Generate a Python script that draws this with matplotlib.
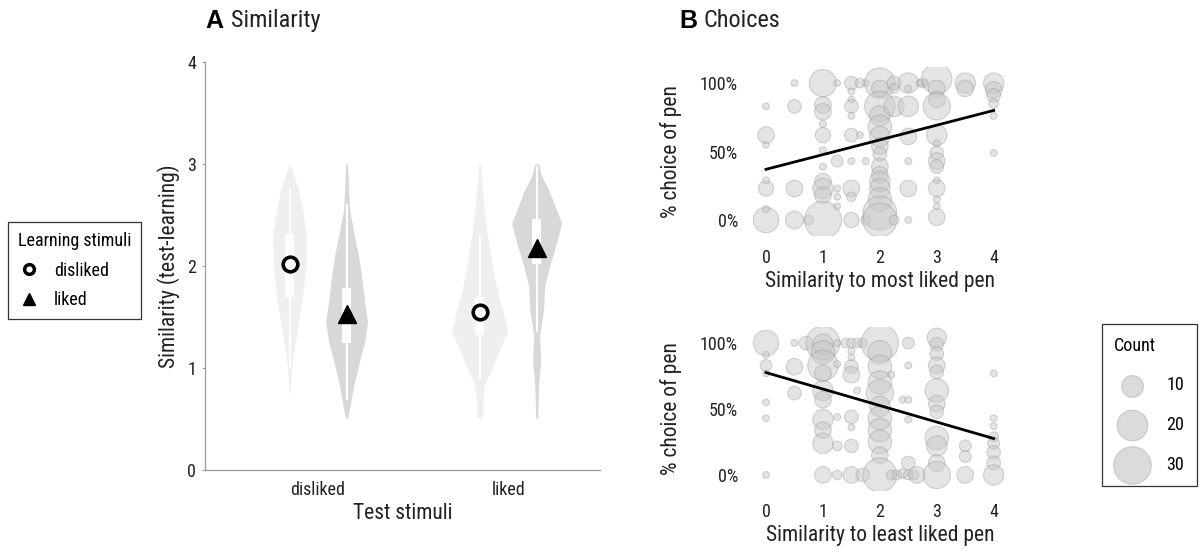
import matplotlib
matplotlib.use("Agg")
import matplotlib.pyplot as plt
from matplotlib.lines import Line2D
import numpy as np

plt.rcParams['font.family'] = ['Roboto Condensed', 'Liberation Sans Narrow', 'Roboto', 'DejaVu Sans']

# ---- Panel A data: violin profiles (y, half-width density) ----
categories = ["disliked", "liked"]
group_learning = ["disliked", "liked"]

viol_dd_y = [0.71, 1.0, 1.16, 1.32, 1.49, 1.78, 2.04, 2.29, 2.55, 2.78, 3.0]
viol_dd_w = [0, 2, 4, 7, 9.5, 14, 16.5, 17, 13, 8, 0.5]
viol_dl_y = [0.5, 0.52, 0.71, 0.87, 1.07, 1.26, 1.45, 1.65, 1.9, 2.1, 2.29, 2.55, 2.75, 3.0]
viol_dl_w = [0, 1.5, 5, 8, 13, 18, 21, 18, 15, 12, 8, 3, 2, 1]
viol_ld_y = [0.5, 0.52, 0.68, 0.84, 1.0, 1.2, 1.36, 1.45, 1.71, 1.97, 2.29, 2.55, 2.78, 3.0]
viol_ld_w = [0, 3, 3, 5, 12.5, 21, 28, 26, 19, 13, 8, 4.5, 2.5, 1]
viol_ll_y = [0.5, 0.52, 0.84, 1.07, 1.32, 1.58, 1.81, 2.0, 2.23, 2.42, 2.62, 2.75, 2.88, 3.0]
viol_ll_w = [0, 1, 2, 4, 3, 7, 8, 13, 20, 25, 17, 12, 5, 2]

# box (q1, q3) and whisker (lo, hi)
box_q = [(1.70, 2.31), (1.24, 1.78), (1.32, 1.70), (2.02, 2.46)]
whisk = [(1.0, 2.75), (0.7, 2.6), (0.9, 2.3), (1.36, 2.97)]
means = [2.02, 1.53, 1.55, 2.18]

# ---- Panel B data ----
top_x = [0, 0, 0, 0, 0, 0, 0,
         0.5, 0.5, 0.5, 0.5, 0.75,
         1, 1, 1, 1, 1, 1, 1, 1, 1, 1, 1,
         1.25, 1.25, 1.25, 1.25, 1.25,
         1.5, 1.5, 1.5, 1.5, 1.5, 1.5, 1.5, 1.5, 1.5, 1.5,
         1.65, 1.65, 1.75, 1.75, 1.75,
         2, 2, 2, 2, 2, 2, 2, 2, 2, 2, 2, 2, 2, 2, 2,
         2.25, 2.25, 2.25, 2.25,
         2.5, 2.5, 2.5, 2.5, 2.5, 2.5, 2.5,
         2.7, 2.75, 2.8,
         3, 3, 3, 3, 3, 3, 3, 3, 3, 3, 3, 3, 3, 3,
         3.5, 3.5,
         4, 4, 4, 4, 4, 4]
top_y = [0, 8, 23, 29, 55, 62, 83,
         100, 83, 23, 0, 0,
         100, 84, 79, 70, 62, 51, 39, 28, 23, 18, 0,
         100, 43, 23, 17, 10,
         100, 94, 88, 83, 76, 62, 43, 23, 17, 0,
         100, 62, 100, 43, 0,
         100, 96, 83, 76, 68, 61, 54, 48, 39, 33, 28, 23, 15, 5, 0,
         100, 96, 83, 0,
         100, 96, 83, 61, 43, 23, 0,
         100, 100, 100,
         103, 96, 88, 83, 62, 56, 49, 43, 39, 29, 23, 15, 10, 2,
         100, 96,
         100, 95, 91, 85, 76, 49]
top_n = [14, 1, 5, 1, 1, 6, 1,
         1, 4, 6, 7, 2,
         16, 6, 6, 1, 5, 1, 1, 6, 9, 6, 30,
         1, 3, 1, 1, 1,
         4, 1, 1, 4, 1, 4, 1, 6, 2, 5,
         2, 1, 1, 1, 2,
         20, 6, 20, 9, 12, 9, 6, 4, 6, 6, 9, 9, 12, 25, 25,
         4, 2, 9, 2,
         9, 1, 9, 6, 1, 6, 1,
         1, 2, 1,
         20, 6, 6, 16, 9, 1, 4, 6, 4, 1, 6, 1, 1, 6,
         9, 6,
         9, 6, 4, 2, 1, 1]
top_fit = (37, 10.75)  # intercept (%), slope (% per unit)

bot_x = [0, 0, 0, 0, 0, 0, 0,
         0.5, 0.5, 0.5, 0.7,
         1, 1, 1, 1, 1, 1, 1, 1, 1, 1, 1,
         1.25, 1.25, 1.25, 1.25, 1.25,
         1.4, 1.5, 1.6, 1.7, 1.5, 1.5, 1.5, 1.5, 1.6, 1.5, 1.5, 1.5, 1.5, 1.7,
         2, 2, 2, 2, 2, 2, 2, 2, 2, 2, 2,
         2.2, 2.3, 2.4, 2.5, 2.6, 2.5, 2.2, 2.4, 2.5, 2.5, 2.5, 2.5, 2.65,
         3, 3, 3, 3, 3, 3, 3, 3, 3, 3, 3, 3,
         3.5, 3.5, 3.5,
         4, 4, 4, 4, 4, 4, 4, 4]
bot_y = [100, 91, 83, 77, 55, 43, 0,
         100, 82, 62, 100,
         100, 99, 93, 83, 77, 64, 57, 42, 34, 24, 0,
         100, 84, 44, 22, 0,
         100, 100, 100, 100, 94, 89, 82, 76, 64, 44, 36, 22, 0, 0,
         100, 93, 82, 70, 62, 52, 43, 34, 25, 15, 0,
         0, 0, 1, 0, 0, 9, 76, 57, 100, 83, 57, 42, 0,
         104, 99, 92, 83, 78, 64, 54, 48, 28, 22, 9, 0,
         22, 14, 0,
         77, 43, 37, 29, 24, 17, 9, 0]
bot_n = [14, 1, 3, 1, 1, 1, 1,
         1, 6, 4, 4,
         25, 9, 12, 20, 6, 9, 6, 9, 6, 9, 6,
         1, 1, 1, 2, 2,
         2, 2, 2, 2, 1, 1, 4, 6, 1, 4, 1, 4, 6, 4,
         30, 12, 12, 12, 16, 9, 12, 12, 12, 6, 25,
         2, 2, 2, 2, 2, 4, 1, 1, 3, 1, 1, 1, 6,
         8, 4, 4, 6, 4, 12, 6, 4, 12, 9, 6, 16,
         3, 3, 6,
         1, 1, 1, 2, 3, 4, 4, 9]
bot_fit = (77.6, -12.5)

legend_counts = [10, 20, 30]

# ---- figure ----
fig = plt.figure(figsize=(12.01, 5.52), dpi=100)

light = '#efefef'
dark = '#d8d8d8'
spine_c = '#9a9a9a'
txt_c = '#222222'

axA = fig.add_axes([0.1707, 0.1486, 0.329, 0.7391])
profiles = [(viol_dd_y, viol_dd_w), (viol_dl_y, viol_dl_w),
            (viol_ld_y, viol_ld_w), (viol_ll_y, viol_ll_w)]
xpos = []
for ci in range(len(categories)):
    for gi in range(len(group_learning)):
        xpos.append(ci + 1 + (-0.15 if gi == 0 else 0.15))
wscale = 1 / 190.0
for i, (yy, ww) in enumerate(profiles):
    col = light if i % 2 == 0 else dark
    yy = np.array(yy)
    ww = np.array(ww) * wscale
    axA.fill_betweenx(yy, xpos[i] - ww, xpos[i] + ww, color=col, lw=0, zorder=1)
    axA.plot([xpos[i], xpos[i]], whisk[i], color='white', lw=1.5, zorder=2)
    q1, q3 = box_q[i]
    axA.add_patch(plt.Rectangle((xpos[i] - 0.022, q1), 0.044, q3 - q1,
                                facecolor='white', edgecolor='none', zorder=2))
for i, m in enumerate(means):
    if i % 2 == 0:
        axA.plot(xpos[i], m, 'o', ms=10.5, mfc='white', mec='black', mew=2.6, zorder=3)
    else:
        axA.plot(xpos[i], m, '^', ms=13, color='black', zorder=3)

axA.set_xlim(0.405, 2.484)
axA.set_ylim(0, 4)
axA.set_yticks([0, 1, 2, 3, 4])
axA.set_xticks([1, 2])
axA.set_xticklabels(categories)
for s in ['top', 'right']:
    axA.spines[s].set_visible(False)
for s in ['left', 'bottom']:
    axA.spines[s].set_color(spine_c)
    axA.spines[s].set_linewidth(0.9)
axA.tick_params(axis='both', length=0, labelsize=13, colors=txt_c)
axA.tick_params(axis='y', length=2.5, color=spine_c, width=0.8, pad=4)
axA.tick_params(axis='x', pad=8)
axA.set_ylabel('Similarity (test-learning)', fontsize=15.5, color=txt_c, labelpad=5)
axA.set_xlabel('Test stimuli', fontsize=15.5, color=txt_c, labelpad=3)
fig.text(0.171, 0.962, 'A', fontsize=18, ha='left', va='center',
         fontfamily='Liberation Sans', fontweight='bold', color='black')
fig.text(0.192, 0.962, 'Similarity', fontsize=17.5, ha='left', va='center', color=txt_c)

handlesA = [Line2D([], [], marker='o', ls='', ms=7, mfc='white', mec='black', mew=2.5),
            Line2D([], [], marker='^', ls='', ms=9, color='black')]
legA = fig.legend(handlesA, group_learning, title='Learning stimuli', loc='upper left',
                  bbox_to_anchor=(0.0067, 0.598), borderaxespad=0, frameon=True,
                  fancybox=False, fontsize=13, title_fontsize=13, handletextpad=0.8,
                  borderpad=0.55, labelspacing=0.65, handlelength=1.2)
legA.get_frame().set_edgecolor('black')
legA.get_frame().set_linewidth(0.9)
legA._legend_box.align = 'left'

bub_face = (0.78, 0.78, 0.78, 0.47)
bub_edge = (0.55, 0.55, 0.55, 0.35)
size_k = 24.0

def bubble_panel(rect, xs, ys, ns, fit, xlabel):
    ax = fig.add_axes(rect)
    ax.scatter(xs, np.array(ys) / 100.0, s=np.array(ns) * size_k, facecolor=bub_face,
               edgecolor=bub_edge, linewidth=0.8, zorder=2)
    xl = np.array([0, 4])
    ax.plot(xl, (fit[0] + fit[1] * xl) / 100.0, color='black', lw=2, zorder=3)
    ax.set_xlim(-0.3, 4.3)
    ax.set_ylim(-0.12, 1.12)
    ax.set_xticks([0, 1, 2, 3, 4])
    ax.set_yticks([0, 0.5, 1])
    ax.set_yticklabels(['0%', '50%', '100%'])
    for s in ax.spines.values():
        s.set_visible(False)
    ax.tick_params(axis='both', length=0, labelsize=13, colors=txt_c)
    ax.tick_params(axis='x', pad=9)
    ax.tick_params(axis='y', pad=8)
    ax.set_ylabel('% choice of pen', fontsize=15.5, color=txt_c, labelpad=13)
    ax.set_xlabel(xlabel, fontsize=15.5, color=txt_c, labelpad=3)
    return ax

bubble_panel([0.6236, 0.5717, 0.218, 0.3076], top_x, top_y, top_n, top_fit,
             'Similarity to most liked pen')
bubble_panel([0.6236, 0.1109, 0.218, 0.2964], bot_x, bot_y, bot_n, bot_fit,
             'Similarity to least liked pen')
fig.text(0.566, 0.962, 'B', fontsize=18, ha='left', va='center',
         fontfamily='Liberation Sans', fontweight='bold', color='black')
fig.text(0.586, 0.962, 'Choices', fontsize=17.5, ha='left', va='center', color=txt_c)

handlesB = [plt.scatter([], [], s=c * size_k, facecolor=(0.86, 0.86, 0.86),
                        edgecolor=(0.8, 0.8, 0.8)) for c in legend_counts]
legB = fig.legend(handlesB, [str(c) for c in legend_counts], title='Count',
                  loc='upper right', bbox_to_anchor=(0.9967, 0.413), borderaxespad=0,
                  frameon=True, fancybox=False, fontsize=13, title_fontsize=13,
                  labelspacing=1.2, borderpad=0.7, handletextpad=0.9, handlelength=2.0,
                  scatterpoints=1)
legB.get_frame().set_edgecolor('black')
legB.get_frame().set_linewidth(0.9)
legB._legend_box.align = 'left'

fig.savefig('out.png', dpi=100)
